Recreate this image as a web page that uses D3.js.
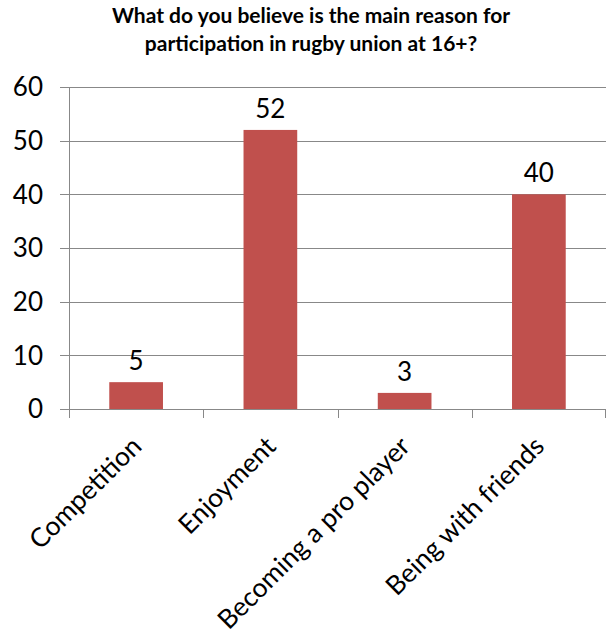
<!DOCTYPE html>
<html>
<head>
<meta charset="utf-8">
<script src="https://cdn.jsdelivr.net/npm/d3@7"></script>
<style>
  body { margin: 0; background: #fff; }
  text { font-family: Lato, "Open Sans", sans-serif; }
</style>
</head>
<body>
<div id="chart"></div>
<script>
// Chart data
const categories = ['Competition', 'Enjoyment', 'Becoming a pro player', 'Being with friends'];
const values = [5, 52, 3, 40];
const yTicks = [0, 10, 20, 30, 40, 50, 60];
const titleLines = ['What do you believe is the main reason  for', 'participation  in rugby union  at 16+?'];

const W = 608, H = 638;
const margin = { top: 87, right: 2, bottom: 229, left: 69 };
const width = W - margin.left - margin.right;
const height = H - margin.top - margin.bottom;

const svg = d3.select('#chart').append('svg')
    .attr('width', W)
    .attr('height', H);

// Title
svg.append('g').selectAll('text')
    .data(titleLines)
    .enter().append('text')
    .attr('x', 311)
    .attr('y', (d, i) => 23 + i * 28)
    .attr('text-anchor', 'middle')
    .style('font-size', '21px')
    .style('font-weight', 'bold')
    .style('fill', '#000')
    .text(d => d);

const g = svg.append('g')
    .attr('transform', `translate(${margin.left},${margin.top})`);

const x = d3.scaleBand()
    .domain(categories)
    .range([0, width])
    .paddingInner(0.6)
    .paddingOuter(0.3);

const y = d3.scaleLinear()
    .domain([0, 60])
    .range([height, 0]);

// Gridlines
g.append('g').selectAll('line')
    .data(yTicks)
    .enter().append('line')
    .attr('x1', -9)
    .attr('x2', width)
    .attr('y1', d => Math.round(y(d)) + 0.5)
    .attr('y2', d => Math.round(y(d)) + 0.5)
    .attr('stroke', '#888')
    .attr('stroke-width', 1);

// Y axis labels
g.append('g').selectAll('text')
    .data(yTicks)
    .enter().append('text')
    .attr('x', -26)
    .attr('y', d => y(d))
    .attr('dy', '0.36em')
    .attr('text-anchor', 'end')
    .style('font-size', '26px')
    .text(d => d);

// Y axis line
g.append('line')
    .attr('x1', 0.5).attr('x2', 0.5)
    .attr('y1', 0).attr('y2', height)
    .attr('stroke', '#888');

// X axis ticks at category boundaries
const bounds = d3.range(categories.length + 1).map(i => i * width / categories.length);
g.append('g').selectAll('line')
    .data(bounds)
    .enter().append('line')
    .attr('x1', d => Math.min(Math.round(d), width - 1) + 0.5)
    .attr('x2', d => Math.min(Math.round(d), width - 1) + 0.5)
    .attr('y1', height)
    .attr('y2', height + 9)
    .attr('stroke', '#888');

// Bars
g.selectAll('.bar')
    .data(values)
    .enter().append('rect')
    .attr('class', 'bar')
    .attr('x', (d, i) => x(categories[i]))
    .attr('y', d => y(d))
    .attr('width', x.bandwidth())
    .attr('height', d => height - y(d))
    .attr('fill', '#C0504D');

// Value labels
g.selectAll('.val')
    .data(values)
    .enter().append('text')
    .attr('class', 'val')
    .attr('x', (d, i) => x(categories[i]) + x.bandwidth() / 2)
    .attr('y', d => y(d) - 12)
    .attr('text-anchor', 'middle')
    .style('font-size', '26px')
    .text(d => d);

// Category labels, rotated
g.selectAll('.cat')
    .data(categories)
    .enter().append('text')
    .attr('class', 'cat')
    .attr('text-anchor', 'end')
    .attr('transform', d => `translate(${x(d) + x.bandwidth() / 2 + 7},${height + 39}) rotate(-45)`)
    .style('font-size', '26.5px')
    .text(d => d);
</script>
</body>
</html>
